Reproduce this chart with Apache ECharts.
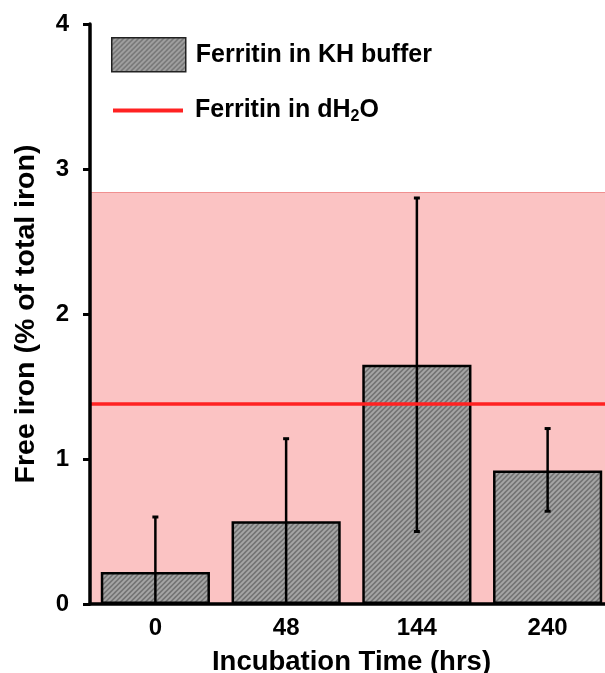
<!DOCTYPE html>
<html>
<head>
<meta charset="utf-8">
<script src="https://cdn.jsdelivr.net/npm/echarts@6/dist/echarts.min.js"></script>
<style>html,body{margin:0;padding:0;background:#fff}#c{width:605px;height:673px}</style>
</head>
<body>
<div id="c"></div>
<script>
const categories = ['0', '48', '144', '240'];
const khMeans = [0.22, 0.57, 1.65, 0.92];
const khErrLow = [0, 0, 0.50, 0.64];
const khErrHigh = [0.60, 1.14, 2.80, 1.21];
const dh2oMean = 1.38;
const dh2oBandLow = 0;
const dh2oBandHigh = 2.84;
const yTicks = [0, 1, 2, 3, 4];

const FONT = 'Arial, "Liberation Sans", sans-serif';

function makeHatch() {
  const s = 5;
  const c = document.createElement('canvas');
  c.width = s; c.height = s;
  const g = c.getContext('2d');
  g.fillStyle = '#747474';
  g.fillRect(0, 0, s, s);
  g.strokeStyle = '#a6a6a6';
  g.lineWidth = 1.9;
  g.beginPath();
  g.moveTo(-1, s + 1); g.lineTo(s + 1, -1);
  g.moveTo(-1, 1); g.lineTo(1, -1);
  g.moveTo(s - 1, s + 1); g.lineTo(s + 1, s - 1);
  g.stroke();
  return c;
}
const hatch = { image: makeHatch(), repeat: 'repeat' };

const chart = echarts.init(document.getElementById('c'), null, { renderer: 'canvas' });

const errData = categories.map((c, i) => [i, khErrLow[i], khErrHigh[i]]);

chart.setOption({
  animation: false,
  backgroundColor: '#ffffff',
  grid: { left: 90, top: 24, width: 523, bottom: 69, containLabel: false, outerBoundsMode: 'none' },
  legend: [
    {
      left: 111, top: 37, padding: 0, itemWidth: 74, itemHeight: 34, orient: 'vertical',
      data: [{ name: 'Ferritin in KH buffer', icon: 'rect' }],
      itemStyle: { borderColor: '#222', borderWidth: 1.5 },
      textStyle: { fontFamily: FONT, fontWeight: 'bold', fontSize: 25, color: '#000', padding: [0, 0, 0, 5] },
      selectedMode: false
    },
    {
      left: 113, top: 98, padding: 0, itemWidth: 70, itemHeight: 4, orient: 'vertical',
      data: [{ name: 'Ferritin in dH2O', icon: 'rect' }],
      itemStyle: { borderWidth: 0 },
      formatter: () => '{a|Ferritin in dH}{s|2}{a|O}',
      textStyle: {
        fontFamily: FONT, fontWeight: 'bold', fontSize: 25, color: '#000', padding: [0, 0, 0, 7],
        rich: {
          a: { fontFamily: FONT, fontWeight: 'bold', fontSize: 25, color: '#000' },
          s: { fontFamily: FONT, fontWeight: 'bold', fontSize: 16, color: '#000', padding: [12, 0, 0, 0] }
        }
      },
      selectedMode: false
    }
  ],
  xAxis: {
    type: 'category',
    data: categories,
    z: 10,
    axisLine: { show: true, lineStyle: { color: '#000', width: 3.5 } },
    axisTick: { show: false },
    axisLabel: { fontFamily: FONT, fontWeight: 'bold', fontSize: 24, color: '#000', margin: 12 },
    name: 'Incubation Time (hrs)',
    nameLocation: 'middle',
    nameGap: 44,
    nameTextStyle: { fontFamily: FONT, fontWeight: 'bold', fontSize: 27.5, color: '#000' },
    splitLine: { show: false }
  },
  yAxis: {
    type: 'value',
    z: 10,
    min: yTicks[0], max: yTicks[yTicks.length - 1], interval: 1,
    axisLine: { show: true, lineStyle: { color: '#000', width: 3.5 } },
    axisTick: { show: true, length: 7, lineStyle: { color: '#000', width: 3 } },
    axisLabel: { fontFamily: FONT, fontWeight: 'bold', fontSize: 24, color: '#000', margin: 21 },
    splitLine: { show: false },
    name: 'Free iron (% of total iron)',
    nameLocation: 'middle',
    nameGap: 49,
    nameRotate: 90,
    nameTextStyle: { fontFamily: FONT, fontWeight: 'bold', fontSize: 28.5, color: '#000' }
  },
  series: [
    {
      name: 'Ferritin in dH2O',
      type: 'line',
      data: [],
      z: 1,
      itemStyle: { color: '#ff2222' },
      lineStyle: { color: '#ff2222', width: 4 },
      markArea: {
        silent: true,
        itemStyle: { color: '#fbc3c3' },
        data: [[{ yAxis: dh2oBandLow }, { yAxis: dh2oBandHigh }]]
      },
      markLine: {
        silent: true,
        symbol: 'none',
        label: { show: false },
        data: [
          { yAxis: dh2oBandHigh, lineStyle: { color: '#f09090', width: 1.2, type: 'solid' } }
        ]
      }
    },
    {
      name: 'Ferritin in KH buffer',
      type: 'bar',
      data: khMeans,
      barCategoryGap: '16.5%',
      z: 2,
      itemStyle: { color: hatch, borderColor: '#000', borderWidth: 2.5 }
    },
    {
      name: 'dH2O line',
      type: 'line',
      data: [],
      z: 3,
      markLine: {
        silent: true,
        symbol: 'none',
        label: { show: false },
        data: [{ yAxis: dh2oMean, lineStyle: { color: '#ff2222', width: 3.5, type: 'solid' } }]
      }
    },
    {
      name: 'errors',
      type: 'custom',
      z: 4,
      data: errData,
      encode: { x: 0, y: [1, 2] },
      renderItem: function (params, api) {
        const idx = api.value(0);
        const lo = api.value(1), hi = api.value(2);
        const pHi = api.coord([idx, hi]);
        const pLo = api.coord([idx, lo]);
        const x = pHi[0];
        const cap = 3;
        const children = [
          { type: 'line', shape: { x1: x, y1: pHi[1], x2: x, y2: pLo[1] }, style: { stroke: '#000', lineWidth: 2.5 } },
          { type: 'line', shape: { x1: x - cap, y1: pHi[1], x2: x + cap, y2: pHi[1] }, style: { stroke: '#000', lineWidth: 3 } }
        ];
        if (lo > 0) {
          children.push({ type: 'line', shape: { x1: x - cap, y1: pLo[1], x2: x + cap, y2: pLo[1] }, style: { stroke: '#000', lineWidth: 3 } });
        }
        return { type: 'group', children: children };
      }
    }
  ]
});
</script>
</body>
</html>
